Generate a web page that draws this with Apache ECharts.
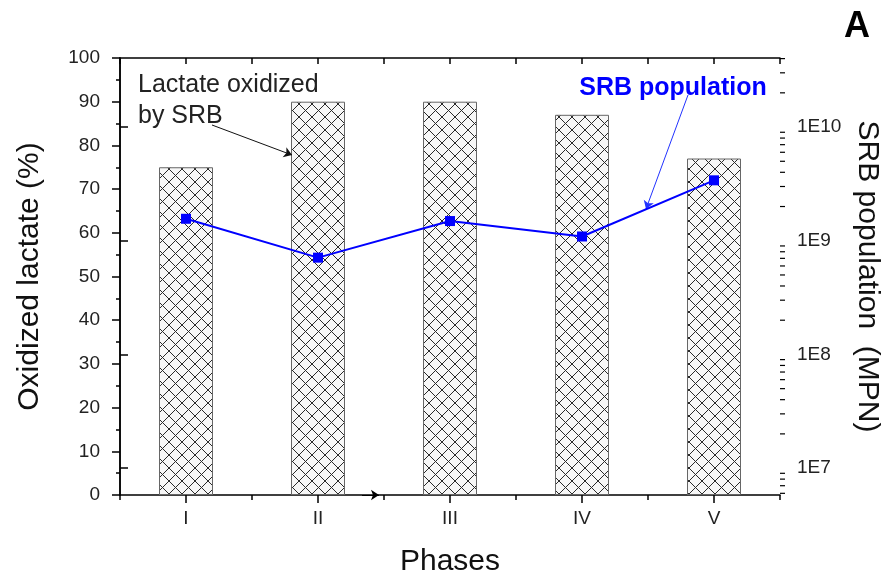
<!DOCTYPE html>
<html><head><meta charset="utf-8">
<script src="https://cdn.jsdelivr.net/npm/echarts@6/dist/echarts.min.js"></script>
<style>html,body{margin:0;padding:0;background:#fff}#c{width:881px;height:576px}</style>
</head><body><div id="c"></div>
<script>
// ---- data ----
const phases = ['I', 'II', 'III', 'IV', 'V'];
const oxidizedLactate = [75, 90, 90, 87, 77];          // %
const srbPopulation = [1.56e9, 7.1e8, 1.49e9, 1.09e9, 3.4e9]; // MPN
const leftAxisRange = [0, 100];
const leftAxisInterval = 10;
const rightAxisRange = [5.8e6, 4.05e10];

// ---- styles ----
const FONT = 'Arial, "Liberation Sans", sans-serif';
function hatchCanvas() {
  const s = 13;
  const c = document.createElement('canvas');
  c.width = s; c.height = s;
  const g = c.getContext('2d');
  g.fillStyle = '#f7f7f7'; g.fillRect(0, 0, s, s);
  g.strokeStyle = '#2a2a2a'; g.lineWidth = 1;
  g.beginPath();
  g.moveTo(0, 0); g.lineTo(s, s);
  g.moveTo(s, 0); g.lineTo(0, s);
  g.stroke();
  return c;
}
// log minor tick positions (axis decoration)
const minorTickVals = [];
for (let e = 6; e <= 10; e++) {
  for (let m = 2; m <= 9; m++) {
    const v = m * Math.pow(10, e);
    if (v > rightAxisRange[0] && v < rightAxisRange[1]) minorTickVals.push(v);
  }
}

const chart = echarts.init(document.getElementById('c'), null, {renderer: 'canvas'});
const axisLineStyle = {color: '#000', width: 1.5};
chart.setOption({
  animation: false,
  backgroundColor: '#fff',
  textStyle: {fontFamily: FONT},
  grid: {left: 120, right: 101, top: 58, bottom: 81, containLabel: false, outerBoundsMode: 'none'},
  xAxis: [
    {
      type: 'category', data: phases, position: 'bottom',
      axisLine: {show: true, lineStyle: axisLineStyle},
      axisTick: {show: true, alignWithLabel: true, length: 8, lineStyle: {color: '#000', width: 1.5}},
      axisLabel: {color: '#222', fontSize: 19, margin: 14, fontFamily: FONT},
      name: 'Phases', nameLocation: 'middle', nameGap: 52,
      nameTextStyle: {fontSize: 30, color: '#111', fontFamily: FONT},
      splitLine: {show: false}
    },
    {
      type: 'value', min: 0, max: 5, interval: 1, position: 'bottom',
      axisLine: {show: false},
      axisTick: {show: true, length: 5, lineStyle: {color: '#000', width: 1.5}},
      axisLabel: {show: false}, splitLine: {show: false}
    },
    {
      type: 'value', min: 0, max: 5, interval: 0.5, position: 'top',
      axisLine: {show: true, lineStyle: axisLineStyle},
      axisTick: {show: true, inside: true, length: 6, lineStyle: {color: '#000', width: 1.5}},
      axisLabel: {show: false}, splitLine: {show: false}
    }
  ],
  yAxis: [
    {
      type: 'value', min: leftAxisRange[0], max: leftAxisRange[1], interval: leftAxisInterval,
      position: 'left',
      axisLine: {show: true, lineStyle: axisLineStyle},
      axisTick: {show: true, length: 8, lineStyle: {color: '#000', width: 1.5}},
      minorTick: {show: true, splitNumber: 2, length: 4, lineStyle: {color: '#000', width: 1.5}},
      axisLabel: {color: '#222', fontSize: 19, margin: 20, fontFamily: FONT},
      splitLine: {show: false}, minorSplitLine: {show: false},
      name: 'Oxidized lactate (%)', nameLocation: 'middle', nameGap: 75,
      nameTextStyle: {fontSize: 30, color: '#111', fontFamily: FONT}
    },
    {
      type: 'log', logBase: 10, min: rightAxisRange[0], max: rightAxisRange[1],
      position: 'right',
      axisLine: {show: true, lineStyle: axisLineStyle},
      axisTick: {show: true, length: 8, lineStyle: {color: '#000', width: 1.5}},
      axisLabel: {
        color: '#222', fontSize: 19, margin: 17, fontFamily: FONT,
        showMinLabel: false, showMaxLabel: false,
        formatter: function (v) {
          const e = Math.log10(v);
          return Math.abs(e - Math.round(e)) < 1e-6 ? '1E' + Math.round(e) : '';
        }
      },
      splitLine: {show: false},
      name: 'SRB population  (MPN)', nameLocation: 'middle', nameGap: 72, nameRotate: -90,
      nameTextStyle: {fontSize: 30, color: '#111', fontFamily: FONT}
    }
  ],
  series: [
    {
      type: 'bar', data: oxidizedLactate, xAxisIndex: 0, yAxisIndex: 0,
      barWidth: 54,
      itemStyle: {color: {image: hatchCanvas(), repeat: 'repeat'}, borderColor: '#666', borderWidth: 1},
      z: 2
    },
    {
      type: 'line', data: srbPopulation, xAxisIndex: 0, yAxisIndex: 1,
      symbol: 'rect', symbolSize: 10, showSymbol: true,
      itemStyle: {color: '#0000ff'},
      lineStyle: {color: '#0000ff', width: 2},
      z: 5,
      markLine: {
        silent: true, animation: false,
        symbol: ['none', 'arrow'], symbolSize: 8,
        label: {show: false},
        data: [
          [{x: 212, y: 125, lineStyle: {color: '#111', width: 1, type: 'solid'}}, {x: 292, y: 155}],
          [{x: 688, y: 95, lineStyle: {color: '#2233ff', width: 1, type: 'solid'}}, {x: 646, y: 209}],
          [{x: 362, y: 495, lineStyle: {color: '#000', width: 1, type: 'solid'}}, {x: 379, y: 495}]
        ]
      }
    },
    {
      type: 'custom', xAxisIndex: 0, yAxisIndex: 1, silent: true, clip: false, z: 10,
      data: minorTickVals.map(v => [0, v]),
      encode: {x: 0, y: 1},
      renderItem: function (params, api) {
        const cs = params.coordSys;
        const y = api.coord([0, api.value(1)])[1];
        const x = cs.x + cs.width;
        return {type: 'line', shape: {x1: x, y1: y, x2: x + 5, y2: y},
          style: {stroke: '#000', lineWidth: 1.2}};
      }
    }
  ],
  graphic: [
    {type: 'text', style: {text: 'Lactate oxidized', x: 138, y: 85, font: '25px ' + FONT, fill: '#222', verticalAlign: 'middle', align: 'left'}},
    {type: 'text', style: {text: 'by SRB', x: 138, y: 116, font: '25px ' + FONT, fill: '#222', verticalAlign: 'middle', align: 'left'}},
    {type: 'text', style: {text: 'SRB population', x: 673, y: 88, font: 'bold 25px ' + FONT, fill: '#0000ff', verticalAlign: 'middle', align: 'center'}},
    {type: 'text', style: {text: 'A', x: 857, y: 27, font: 'bold 36px ' + FONT, fill: '#000', verticalAlign: 'middle', align: 'center'}}
  ]
});
</script>
</body></html>
